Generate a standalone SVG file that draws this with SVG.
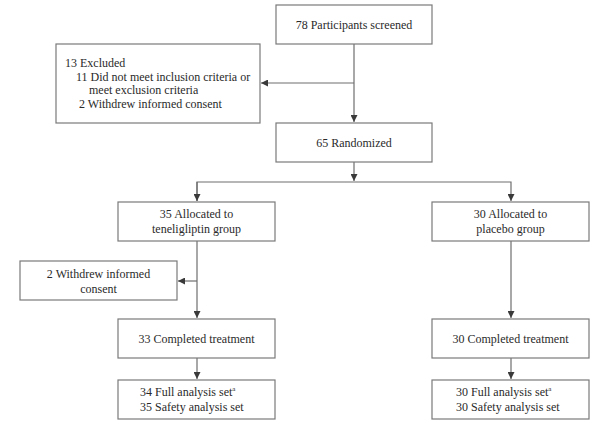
<svg xmlns="http://www.w3.org/2000/svg" width="606" height="426" viewBox="0 0 606 426">
<style>
.box{fill:#fff;stroke:#7a7a7a;stroke-width:1.2}
.ln{fill:none;stroke:#6e6e6e;stroke-width:1.2}
text{font-family:"Liberation Serif","Times New Roman",serif;font-size:12px;fill:#2a2a2a}
.c{text-anchor:middle}
.sup{font-size:7px}
</style>
<defs>
<marker id="ah" markerUnits="userSpaceOnUse" markerWidth="8" markerHeight="7" refX="7" refY="3.5" orient="auto">
<path d="M0,0 L7,3.5 L0,7 z" fill="#3a3a3a"/>
</marker>
</defs>
<rect width="606" height="426" fill="#fff"/>
<g id="connectors">
<path class="ln" d="M354,44 V122" marker-end="url(#ah)"/>
<path class="ln" d="M354,83 H261" marker-end="url(#ah)"/>
<path class="ln" d="M354,162 V181" marker-end="url(#ah)"/>
<path class="ln" d="M197,201 V182 H511 V201" marker-end="url(#ah)"/>
<path class="ln" d="M197,182 V201" marker-end="url(#ah)"/>
<path class="ln" d="M197,241 V318" marker-end="url(#ah)"/>
<path class="ln" d="M197,281 H178" marker-end="url(#ah)"/>
<path class="ln" d="M511,241 V318" marker-end="url(#ah)"/>
<path class="ln" d="M197,358 V379" marker-end="url(#ah)"/>
<path class="ln" d="M511,358 V379" marker-end="url(#ah)"/>
</g>
<g id="screened">
<rect class="box" x="276" y="5" width="156" height="39"/>
<text class="c" x="354" y="29">78 Participants screened</text>
</g>
<g id="excluded">
<rect class="box" x="56" y="44" width="204" height="79"/>
<text x="65" y="67">13 Excluded</text>
<text x="76" y="80.5">11 Did not meet inclusion criteria or</text>
<text x="89" y="94">meet exclusion criteria</text>
<text x="79" y="107.5">2 Withdrew informed consent</text>
</g>
<g id="randomized">
<rect class="box" x="276" y="123" width="156" height="39"/>
<text class="c" x="354" y="147">65 Randomized</text>
</g>
<g id="alloc-tene">
<rect class="box" x="118" y="202" width="157" height="39"/>
<text class="c" x="196.5" y="218">35 Allocated to</text>
<text class="c" x="196.5" y="233">teneligliptin group</text>
</g>
<g id="alloc-placebo">
<rect class="box" x="432" y="202" width="157" height="39"/>
<text class="c" x="510.5" y="218">30 Allocated to</text>
<text class="c" x="510.5" y="233">placebo group</text>
</g>
<g id="withdrew">
<rect class="box" x="20" y="261" width="157" height="39"/>
<text class="c" x="98.5" y="278">2 Withdrew informed</text>
<text class="c" x="98.5" y="293">consent</text>
</g>
<g id="completed-tene">
<rect class="box" x="118" y="319" width="157" height="39"/>
<text class="c" x="196.5" y="343">33 Completed treatment</text>
</g>
<g id="completed-placebo">
<rect class="box" x="432" y="319" width="157" height="39"/>
<text class="c" x="510.5" y="343">30 Completed treatment</text>
</g>
<g id="analysis-tene">
<rect class="box" x="118" y="380" width="157" height="39"/>
<text x="140" y="396">34 Full analysis set<tspan class="sup" dy="-5">a</tspan></text>
<text x="140" y="411">35 Safety analysis set</text>
</g>
<g id="analysis-placebo">
<rect class="box" x="432" y="380" width="157" height="39"/>
<text x="456" y="396">30 Full analysis set<tspan class="sup" dy="-5">a</tspan></text>
<text x="456" y="411">30 Safety analysis set</text>
</g>
</svg>
